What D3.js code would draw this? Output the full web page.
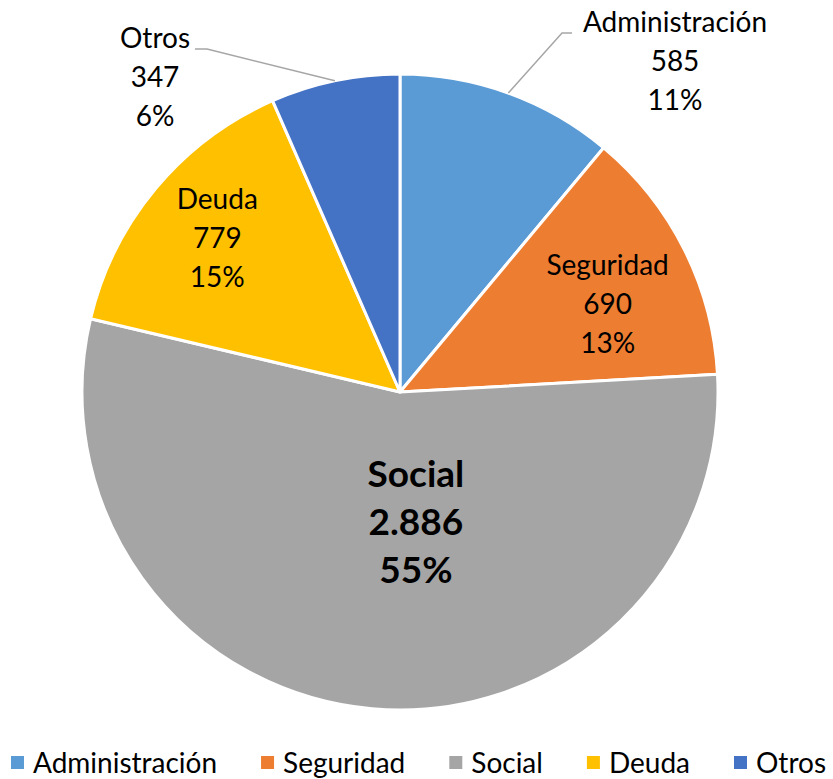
<!DOCTYPE html>
<html>
<head>
<meta charset="utf-8">
<script src="https://cdn.jsdelivr.net/npm/d3@7"></script>
<style>
  body { margin: 0; background: #fff; }
  svg text { font-family: Lato, "Noto Sans", sans-serif; fill: #000; }
</style>
</head>
<body>
<svg id="chart" width="833" height="779"></svg>
<script>
"use strict";

// data
var categories = ["Administración", "Seguridad", "Social", "Deuda", "Otros"];
var values = [585, 690, 2886, 779, 347];
var pctLabels = ["11%", "13%", "55%", "15%", "6%"];
var colors = ["#5B9BD5", "#ED7D31", "#A5A5A5", "#FFC000", "#4472C4"];

var W = 833, H = 779,
  cx = 400, cy = 392, R = 318;

var es = d3.formatLocale({ decimal: ",", thousands: ".", grouping: [3], currency: ["", "€"] });
var fmtN = es.format(",d");

var svg = d3.select("#chart");

var data = categories.map((c, i) => ({ name: c, value: values[i], pct: pctLabels[i], color: colors[i] }));

var pie = d3.pie().sort(null).value((d) => d.value);
var arc = d3.arc().innerRadius(0).outerRadius(R);
var arcs = pie(data);

var g = svg.append("g").attr("transform", `translate(${cx},${cy})`);

g.selectAll(".slice")
  .data(arcs)
  .enter()
  .append("path")
  .attr("class", "slice")
  .attr("d", arc)
  .attr("fill", (d) => d.data.color)
  .attr("stroke", "#fff")
  .attr("stroke-width", 3)
  .attr("stroke-linejoin", "round");

var inside = {
  Seguridad: { r: 225, shift: 4 },
  Social: { r: 132, shift: -12 },
  Deuda: { r: 238, shift: 0 },
};
var outside = {
  Administración: { x: 675, y: 62, line: [[562, -1], [572, 0]] },
  Otros: { x: 155, y: 78, line: [[207, -1], [195, 0]] },
};

function labelPos(d) {
  var name = d.data.name;
  if (outside[name]) return [outside[name].x - cx, outside[name].y - cy];
  var o = inside[name];
  var a = (d.startAngle + d.endAngle) / 2 + (o.shift * Math.PI) / 180;
  return [o.r * Math.sin(a), -o.r * Math.cos(a)];
}

// leader lines
arcs
  .filter((d) => outside[d.data.name])
  .forEach((d) => {
    var o = outside[d.data.name];
    var a = (d.startAngle + d.endAngle) / 2;
    var p0 = [R * Math.sin(a), -R * Math.cos(a)];
    var ly = o.y - 29 - cy;
    var pts = [p0, [o.line[0][0] - cx, ly], [o.line[1][0] - cx, ly]];
    g.append("path")
      .attr("d", d3.line()(pts))
      .attr("fill", "none")
      .attr("stroke", "#A6A6A6")
      .attr("stroke-width", 1.5);
  });

var labels = g
  .selectAll(".lbl")
  .data(arcs)
  .enter()
  .append("text")
  .attr("class", "lbl")
  .attr("text-anchor", "middle")
  .attr("transform", (d) => `translate(${labelPos(d)})`)
  .style("font-size", (d) => (d.data.name === "Social" ? "37px" : "28px"))
  .style("font-weight", (d) => (d.data.name === "Social" ? "bold" : "normal"));

labels.each(function (d) {
  var big = d.data.name === "Social";
  var lh = big ? 48 : 39;
  var lines = [d.data.name, fmtN(d.data.value), d.data.pct];
  d3.select(this)
    .selectAll("tspan")
    .data(lines)
    .enter()
    .append("tspan")
    .attr("x", 0)
    .attr("y", (t, i) => (i - 1) * lh + (big ? 12 : 9))
    .text((t) => t);
});

// legend
var leg = svg.append("g").attr("class", "legend");
var items = leg
  .selectAll(".item")
  .data(data)
  .enter()
  .append("g")
  .attr("class", "item");
items
  .append("rect")
  .attr("width", 13)
  .attr("height", 13)
  .attr("y", 756)
  .attr("fill", (d) => d.color);
items
  .append("text")
  .attr("x", 22)
  .attr("y", 773)
  .style("font-size", "28px")
  .text((d) => d.name);

var xPos = 0, gap = 44, widths = [];
items.each(function () {
  var w = this.getBBox().width;
  widths.push(w);
});
var total = d3.sum(widths) + gap * (widths.length - 1);
xPos = (W - total) / 2 + 2;
items.attr("transform", function (d, i) {
  var x = xPos;
  xPos += widths[i] + gap;
  return `translate(${x},0)`;
});
</script>
</body>
</html>
